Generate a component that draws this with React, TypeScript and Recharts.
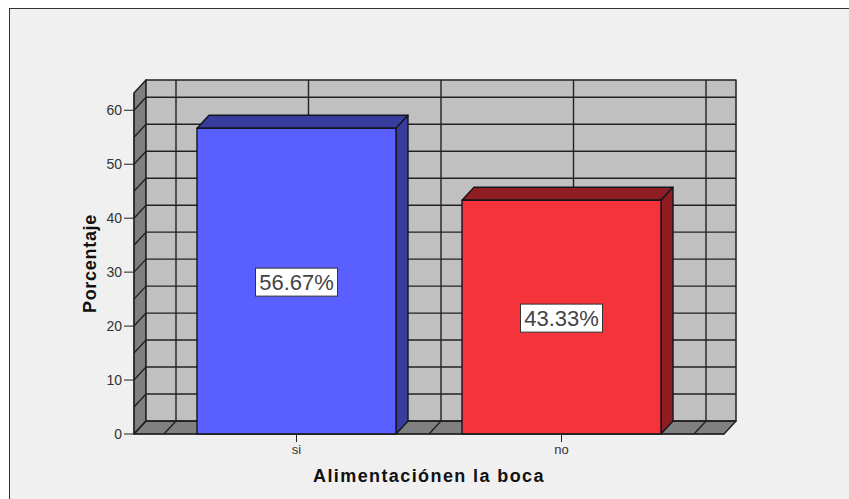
import { Bar, CartesianGrid, ComposedChart, LabelList, ReferenceLine, XAxis, YAxis } from 'recharts'

const categories = ['si', 'no']
const percentages = [56.67, 43.33]
const valueLabels = ['56.67%', '43.33%']
const yTicks = [0, 10, 20, 30, 40, 50, 60]
const gridValues = [0, 5, 10, 15, 20, 25, 30, 35, 40, 45, 50, 55, 60]
// back wall verticals: band edges and band centres of the category axis
const wallCategories = ['si', 'si', 'si', 'no', 'no']
const wallBandPositions = ['start', 'middle', 'end', 'middle', 'end']

const data = categories.map((name, i) => ({ name, value: percentages[i], label: valueLabels[i] }))

// 3D look: everything behind the front plane is shifted by this much
const DX = 12
const DY = -13
const LINE = '#222'
const FONT = '"Liberation Sans", Arial, sans-serif'
const faces = [
  { front: '#5A60FF', dark: '#383C9C' },
  { front: '#F4333B', dark: '#8F1D22' },
]

function pts(list: number[][]) {
  return list.map((p) => p.join(',')).join(' ')
}

function Walls(props: any) {
  const { x, y, width, height } = props
  const r = x + width
  const b = y + height
  return (
    <g key="walls" stroke={LINE} strokeWidth={1.5} strokeLinejoin="round">
      <polygon points={pts([[x, b], [x + DX, b + DY], [x + DX, y + DY], [x, y]])} fill="#808080" />
      <polygon points={pts([[x, b], [x + DX, b + DY], [r + DX, b + DY], [r, b]])} fill="#808080" />
      <rect x={x + DX} y={y + DY} width={width} height={height} fill="#C0C0C0" />
    </g>
  )
}

function HLine(props: any) {
  const { x1, x2, y1 } = props
  return (
    <g stroke={LINE} strokeWidth={1.4}>
      <line x1={x1} y1={y1} x2={x1 + DX} y2={y1 + DY} />
      <line x1={x1 + DX} y1={y1 + DY} x2={x2 + DX} y2={y1 + DY} />
    </g>
  )
}

function VLine(props: any) {
  const { x1, y1, y2 } = props
  const top = Math.min(y1, y2)
  const bottom = Math.max(y1, y2)
  return (
    <g stroke={LINE} strokeWidth={1.4}>
      <line x1={x1 + DX} y1={top + DY} x2={x1 + DX} y2={bottom + DY} />
      <line x1={x1} y1={bottom} x2={x1 + DX} y2={bottom + DY} />
    </g>
  )
}

function Bar3D(props: any) {
  const { x, y, width, height, index } = props
  const c = faces[index]
  const r = x + width
  const b = y + height
  return (
    <g stroke="#15151f" strokeWidth={1.4} strokeLinejoin="round">
      <polygon points={pts([[x, y], [x + DX, y + DY], [r + DX, y + DY], [r, y]])} fill={c.dark} />
      <polygon points={pts([[r, y], [r + DX, y + DY], [r + DX, b + DY], [r, b]])} fill={c.dark} />
      <rect x={x} y={y} width={width} height={height} fill={c.front} />
    </g>
  )
}

function ValueBox(props: any) {
  const { x, y, width, height, value } = props
  const cx = x + width / 2
  const cy = y + height / 2 + 1
  return (
    <g>
      <rect x={cx - 41} y={cy - 14} width={82} height={28} fill="#fff" stroke="#333" strokeWidth={1} />
      <text x={cx} y={cy + 7.5} textAnchor="middle" fontFamily={FONT} fontSize={22} fill="#444">
        {value}
      </text>
    </g>
  )
}

export default function App() {
  return (
    <div style={{ position: 'fixed', left: 0, top: 0, width: 849, height: 499, background: '#fff' }}>
      <div
        style={{
          position: 'absolute',
          left: 9,
          top: 8,
          width: 840,
          height: 491,
          boxSizing: 'border-box',
          background: '#F0F0F0',
          borderLeft: '1px solid #333',
          borderTop: '1px solid #333',
        }}
      />
      <ComposedChart
        width={849}
        height={499}
        data={data}
        margin={{ top: 93, right: 125, bottom: 0, left: 80 }}
        style={{ position: 'absolute', left: 0, top: 0 }}
      >
        <XAxis
          dataKey="name"
          padding={{ left: 30, right: 30 }}
          height={65}
          stroke="#222"
          tickSize={8}
          tickMargin={3}
          tick={{ fontFamily: FONT, fontSize: 13, fill: '#333' }}
          label={{
            value: 'Alimentaciónen la boca',
            position: 'insideBottom',
            offset: 17,
            style: { fontFamily: FONT, fontSize: 18, fontWeight: 700, fill: '#111', letterSpacing: 1.4 },
          }}
        />
        <YAxis
          width={54}
          domain={[0, 63.2]}
          ticks={yTicks}
          stroke="#222"
          tickSize={10}
          tick={{ fontFamily: FONT, fontSize: 14, fill: '#333' }}
          label={{
            value: 'Porcentaje',
            angle: -90,
            position: 'insideLeft',
            offset: 10,
            style: { textAnchor: 'middle', fontFamily: FONT, fontSize: 18, fontWeight: 700, fill: '#111', letterSpacing: 0.7 },
          }}
        />
        <CartesianGrid horizontalValues={[0]} vertical={false} horizontal={Walls} />
        {gridValues.map((v) => (
          <ReferenceLine key={`h${v}`} y={v} shape={HLine} zIndex={-50} />
        ))}
        {wallCategories.map((c, i) => (
          <ReferenceLine key={`v${i}`} x={c} position={wallBandPositions[i] as any} shape={VLine} zIndex={-50} />
        ))}
        <Bar dataKey="value" barSize={199} shape={Bar3D} isAnimationActive={false}>
          <LabelList dataKey="label" content={ValueBox} />
        </Bar>
      </ComposedChart>
    </div>
  )
}
